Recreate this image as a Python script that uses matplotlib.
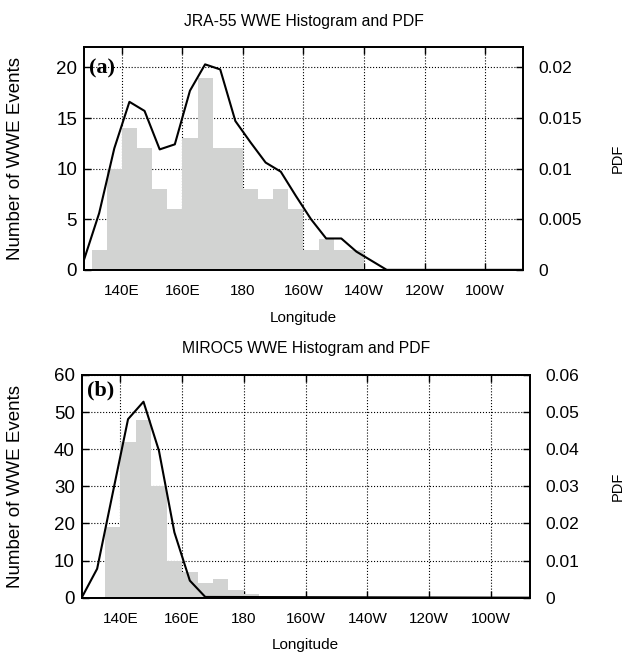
import matplotlib
matplotlib.use("Agg")
import matplotlib.pyplot as plt

plt.rcParams['font.family'] = ['Liberation Sans', 'DejaVu Sans']

# bin left edges (deg E) and WWE counts
bins_a = [130, 135, 140, 145, 150, 155, 160, 165, 170, 175, 180, 185, 190, 195, 200, 205, 210, 215]
counts_a = [2, 10, 14, 12, 8, 6, 13, 19, 12, 12, 8, 7, 8, 6, 2, 3, 2, 2]
bins_b = [135, 140, 145, 150, 155, 160, 165, 170, 175, 180]
counts_b = [19, 42, 48, 30, 10, 7, 4, 5, 2, 1]

# PDF curves
pdf_x_a = [127.5, 132.5, 137.5, 142.5, 147.5, 152.5, 157.5, 162.5, 167.5, 172.5, 177.5,
           182.5, 187.5, 192.5, 197.5, 202.5, 207.5, 212.5, 217.5, 222.5, 227.5, 272.5]
pdf_a = [0.0010, 0.0056, 0.0120, 0.0166, 0.0157, 0.0119, 0.0124, 0.0177, 0.0203, 0.0198, 0.0147,
         0.0126, 0.0106, 0.0097, 0.0073, 0.0050, 0.0031, 0.0031, 0.0018, 0.0009, 0.0, 0.0]
pdf_x_b = [127.5, 132.5, 137.5, 142.5, 147.5, 152.5, 157.5, 162.5, 167.5, 272.5]
pdf_b = [0.0, 0.0078, 0.028, 0.0481, 0.0528, 0.0396, 0.0176, 0.0046, 0.0002, 0.0]

xticks = [140, 160, 180, 200, 220, 240, 260]
xticklabels = ['140E', '160E', '180', '160W', '140W', '120W', '100W']

fig = plt.figure(figsize=(6.27, 6.55), dpi=100)

panels = [
    dict(rect=[0.134, 0.588, 0.700, 0.340], bins=bins_a, counts=counts_a, px=pdf_x_a, pdf=pdf_a,
         ymax=22, yticks=[0, 5, 10, 15, 20], pticks=[0, 0.005, 0.01, 0.015, 0.02],
         title='JRA-55 WWE Histogram and PDF', tag='(a)', tag_y=0.906,
         ylab_x=-0.137, pdf_x=1.200, xlab_y=-0.184),
    dict(rect=[0.1303, 0.0875, 0.7145, 0.340], bins=bins_b, counts=counts_b, px=pdf_x_b, pdf=pdf_b,
         ymax=60, yticks=[0, 10, 20, 30, 40, 50, 60], pticks=[0, 0.01, 0.02, 0.03, 0.04, 0.05, 0.06],
         title='MIROC5 WWE Histogram and PDF', tag='(b)', tag_y=0.93,
         ylab_x=-0.129, pdf_x=1.181, xlab_y=-0.181),
]

for p in panels:
    ax = fig.add_axes(p['rect'])
    ax.bar(p['bins'], p['counts'], width=5, align='edge', color='#d2d3d2', linewidth=0)
    ax.set_xlim(127.5, 272.5)
    ax.set_ylim(0, p['ymax'])
    ax.set_xticks(xticks)
    ax.set_xticklabels(xticklabels)
    ax.set_yticks(p['yticks'])
    ax.set_axisbelow(True)
    ax.grid(True, linestyle=':', color='black', linewidth=0.8)
    ax.tick_params(axis='x', direction='in', top=True, length=5, width=1, labelsize=11, pad=10)
    ax.tick_params(axis='y', direction='in', length=5, width=1, labelsize=13.5, pad=5)
    for s in ax.spines.values():
        s.set_linewidth(1.3)
    ax.set_xlabel('Longitude', fontsize=11)
    ax.set_ylabel('Number of WWE Events', fontsize=13.5)
    ax.xaxis.set_label_coords(0.5, p['xlab_y'])
    ax.yaxis.set_label_coords(p['ylab_x'], 0.5)
    ax.set_title(p['title'], fontsize=11.3, pad=15.5)
    ax.text(0.012, p['tag_y'], p['tag'], transform=ax.transAxes, va='center', ha='left',
            fontsize=16, fontweight='bold', family=['Liberation Serif', 'DejaVu Serif'])

    ax2 = ax.twinx()
    ax2.plot(p['px'], p['pdf'], color='black', linewidth=1.5)
    ax2.set_ylim(0, p['ymax'] / 1000)
    ax2.set_yticks(p['pticks'])
    ax2.set_yticklabels(['%g' % t for t in p['pticks']])
    ax2.tick_params(axis='y', direction='in', length=5, width=1, labelsize=12.5, pad=11)
    ax2.set_ylabel('PDF', fontsize=10.5)
    ax2.yaxis.set_label_coords(p['pdf_x'], 0.5)
    for s in ax2.spines.values():
        s.set_linewidth(1.3)

fig.savefig('out.png', dpi=100)
